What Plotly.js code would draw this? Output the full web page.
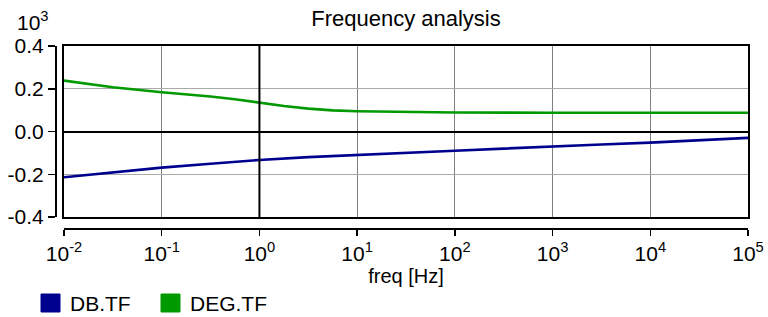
<!DOCTYPE html>
<html>
<head>
<meta charset="utf-8">
<script src="https://cdn.plot.ly/plotly-3.0.1.min.js"></script>
<style>html,body{margin:0;padding:0;background:#fff;}#chart{width:768px;height:317px;}</style>
</head>
<body>
<div id="chart"></div>
<script>
// ---- data (values in units of 10^3) ----
const freqDB = [0.01, 0.0316, 0.1, 0.316, 1, 3.16, 10, 31.6, 100, 316, 1000, 3160, 10000, 31600, 100000];
const dbTF   = [-0.214, -0.192, -0.169, -0.151, -0.133, -0.120, -0.109, -0.099, -0.090, -0.080, -0.069, -0.061, -0.052, -0.042, -0.030];
const freqDEG = [0.01, 0.0316, 0.1, 0.178, 0.316, 0.562, 1, 1.78, 3.16, 5.62, 10, 31.6, 100, 1000, 10000, 100000];
const degTF   = [0.238, 0.207, 0.184, 0.175, 0.164, 0.151, 0.135, 0.119, 0.107, 0.099, 0.095, 0.091, 0.089, 0.088, 0.088, 0.088];
const seriesNames = ["DB.TF", "DEG.TF"];
const seriesColors = ["#00008f", "#009a00"];
const xTickVals = [0.01, 0.1, 1, 10, 100, 1000, 10000, 100000];
const xTickText = ["10<sup>-2</sup>", "10<sup>-1</sup>", "10<sup>0</sup>", "10<sup>1</sup>", "10<sup>2</sup>", "10<sup>3</sup>", "10<sup>4</sup>", "10<sup>5</sup>"];
const yTickVals = [-0.4, -0.2, 0, 0.2, 0.4];
const yTickText = ["-0.4", "-0.2", "0.0", "0.2", "0.4"];

// ---- geometry ----
const W = 768, H = 317;
const ML = 50, MR = 20, MT = 46, MB = 87;
const PW = W - ML - MR, PH = H - MT - MB;
const px2x = p => (p - ML) / PW;
const px2y = p => (H - MB - p) / PH;
const xDom = [px2x(64), 1];
const yDom = [px2y(217), 1];
const FONT = "Liberation Sans, Arial, sans-serif";
const XR = [-2, 5];
// paper position of the 10^0 reference line, derived from the axis range
const x1Paper = xDom[0] + (0 - XR[0]) / (XR[1] - XR[0]) * (xDom[1] - xDom[0]);

const traces = [
  {x: freqDB, y: dbTF, type: "scatter", mode: "lines", name: seriesNames[0],
   line: {color: seriesColors[0], width: 2.6}, xaxis: "x", yaxis: "y", showlegend: false},
  {x: freqDEG, y: degTF, type: "scatter", mode: "lines", name: seriesNames[1],
   line: {color: seriesColors[1], width: 2.6}, xaxis: "x", yaxis: "y", showlegend: false},
  // invisible carrier so the offset tick axes are drawn
  {x: freqDB, y: dbTF, type: "scatter", mode: "lines", line: {width: 0}, opacity: 0,
   xaxis: "x2", yaxis: "y2", showlegend: false, hoverinfo: "skip"}
];

const shapes = [
  {type: "line", xref: "paper", yref: "paper", x0: x1Paper, x1: x1Paper, y0: yDom[0], y1: 1,
   line: {color: "#000", width: 2}}
];
const annotations = [
  {text: "10<sup>3</sup>", xref: "paper", yref: "paper", x: px2x(15), y: px2y(6),
   xanchor: "left", yanchor: "top", showarrow: false, font: {family: FONT, size: 21, color: "#000"}}
];
// legend (boxes + labels)
const legX = [41, 161];
seriesNames.forEach((n, i) => {
  shapes.push({type: "rect", xref: "paper", yref: "paper",
    x0: px2x(legX[i]), x1: px2x(legX[i] + 19), y0: px2y(312), y1: px2y(294),
    fillcolor: seriesColors[i], line: {color: seriesColors[i], width: 1}});
  annotations.push({text: n, xref: "paper", yref: "paper", x: px2x(legX[i] + 27), y: px2y(303),
    xanchor: "left", yanchor: "middle", showarrow: false,
    font: {family: FONT, size: 21, color: "#000"}});
});

const layout = {
  width: W, height: H,
  margin: {l: ML, r: MR, t: MT, b: MB, pad: 0},
  paper_bgcolor: "#fff", plot_bgcolor: "#fff",
  font: {family: FONT, size: 21, color: "#000"},
  title: {text: "Frequency analysis", xref: "paper", x: px2x(406), xanchor: "center",
          yref: "container", y: 1 - 18 / H, yanchor: "middle", font: {family: FONT, size: 22, color: "#000"}},
  showlegend: false,
  xaxis: {type: "log", range: XR, domain: xDom, anchor: "y",
          showgrid: true, gridcolor: "#808080", gridwidth: 1.2,
          tickvals: xTickVals, showticklabels: false, ticks: "",
          showline: true, mirror: true, linecolor: "#000", linewidth: 2, zeroline: false,
          fixedrange: true, automargin: false},
  yaxis: {range: [-0.4, 0.4], domain: yDom, anchor: "x",
          showgrid: true, gridcolor: "#aaaaaa", gridwidth: 1.2,
          tickvals: yTickVals, showticklabels: false, ticks: "",
          zeroline: true, zerolinecolor: "#000", zerolinewidth: 2,
          showline: true, mirror: true, linecolor: "#000", linewidth: 2,
          fixedrange: true, automargin: false},
  xaxis2: {type: "log", range: XR, domain: xDom, overlaying: "x", anchor: "free",
           position: px2y(228), side: "bottom",
           showgrid: false, zeroline: false, showline: true, linecolor: "#000", linewidth: 1.5,
           ticks: "outside", ticklen: 6, tickwidth: 1.5, tickcolor: "#000",
           tickvals: xTickVals, ticktext: xTickText, tickfont: {family: FONT, size: 21},
           title: {text: "freq [Hz]", standoff: 0, font: {family: FONT, size: 20}},
           fixedrange: true, automargin: false},
  yaxis2: {range: [-0.4, 0.4], domain: yDom, overlaying: "y", anchor: "free",
           position: px2x(55), side: "left",
           showgrid: false, zeroline: false, showline: true, linecolor: "#000", linewidth: 1.5,
           ticks: "outside", ticklen: 7, tickwidth: 1.5, tickcolor: "#000",
           tickvals: yTickVals, ticktext: yTickText, tickfont: {family: FONT, size: 21},
           fixedrange: true, automargin: false},
  shapes: shapes,
  annotations: annotations
};

Plotly.newPlot("chart", traces, layout, {staticPlot: true, displayModeBar: false});
</script>
</body>
</html>
